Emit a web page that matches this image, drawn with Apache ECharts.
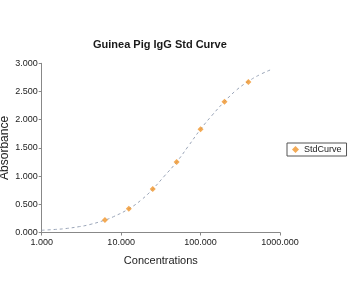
<!DOCTYPE html>
<html>
<head>
<meta charset="utf-8">
<script src="https://cdn.jsdelivr.net/npm/echarts@6/dist/echarts.min.js"></script>
<style>html,body{margin:0;padding:0;background:#fff}#c{width:350px;height:300px}</style>
</head>
<body>
<div id="c"></div>
<script>
// Standard points
var stdConc = [6.25, 12.5, 25, 50, 100, 200, 400];
var stdAbs = [0.22, 0.42, 0.77, 1.25, 1.83, 2.32, 2.67];
// Fitted curve
var fitConc = [1, 1.5, 2, 3, 4, 6.25, 8, 12.5, 18, 25, 35, 50, 70, 100, 140, 200, 280, 400, 560, 780];
var fitAbs = [0.04, 0.055, 0.07, 0.105, 0.14, 0.22, 0.28, 0.42, 0.58, 0.77, 1.0, 1.25, 1.53, 1.83, 2.08, 2.32, 2.52, 2.68, 2.80, 2.89];
// Tick labels
var xTickValues = [1, 10, 100, 1000];
var xTickLabels = ['1.000', '10.000', '100.000', '1000.000'];
var yTickValues = [0, 0.5, 1, 1.5, 2, 2.5, 3];
var yTickLabels = ['0.000', '0.500', '1.000', '1.500', '2.000', '2.500', '3.000'];

function pairs(a, b) { return a.map(function (v, i) { return [v, b[i]]; }); }
function lookup(vals, labels) {
  return function (v) {
    for (var i = 0; i < vals.length; i++) if (Math.abs(vals[i] - v) < 1e-6 * Math.max(1, vals[i])) return labels[i];
    return '';
  };
}
var font = 'Liberation Sans, Arial, sans-serif';
var chart = echarts.init(document.getElementById('c'), null, { renderer: 'canvas' });
chart.setOption({
  animation: false,
  backgroundColor: '#fff',
  textStyle: { fontFamily: font },
  title: {
    text: 'Guinea Pig IgG Std Curve',
    left: 93, top: 39,
    padding: 0,
    textStyle: { fontSize: 11, fontWeight: 'bold', color: '#1a1a1a', fontFamily: font }
  },
  legend: {
    data: ['StdCurve'],
    left: 287, top: 143,
    orient: 'vertical',
    borderColor: '#555', borderWidth: 1, borderRadius: 0,
    padding: [2, 5, 2, 5],
    itemWidth: 7, itemHeight: 7, icon: 'diamond',
    textStyle: { fontSize: 9, color: '#222', fontFamily: font }
  },
  grid: { left: 41.7, right: 70, top: 63.3, bottom: 67.5, containLabel: false, outerBoundsMode: 'none' },
  xAxis: {
    type: 'log', logBase: 10, min: 1, max: 1000,
    name: 'Concentrations', nameLocation: 'middle', nameGap: 23, nameMoveOverlap: false,
    nameTextStyle: { fontSize: 11, color: '#222', fontFamily: font },
    axisLine: { show: true, lineStyle: { color: '#888', width: 1 } },
    axisTick: { show: true, length: 3, lineStyle: { color: '#888' } },
    minorTick: { show: false },
    splitLine: { show: false },
    axisLabel: { fontSize: 9, color: '#222', margin: 6, formatter: lookup(xTickValues, xTickLabels), fontFamily: font }
  },
  yAxis: {
    type: 'value', min: 0, max: 3, interval: 0.5,
    name: 'Absorbance', nameLocation: 'middle', nameGap: 31, nameMoveOverlap: false,
    nameTextStyle: { fontSize: 12, color: '#222', fontFamily: font },
    axisLine: { show: true, lineStyle: { color: '#888', width: 1 } },
    axisTick: { show: true, length: 3, lineStyle: { color: '#888' } },
    splitLine: { show: false },
    axisLabel: { fontSize: 9, color: '#222', margin: 4, formatter: lookup(yTickValues, yTickLabels), fontFamily: font }
  },
  series: [
    {
      name: 'Fit', type: 'line', smooth: true, symbol: 'none',
      data: pairs(fitConc, fitAbs),
      lineStyle: { color: '#9aa5b8', width: 1, type: [3, 3] },
      z: 1
    },
    {
      name: 'StdCurve', type: 'scatter', symbol: 'diamond', symbolSize: 6,
      data: pairs(stdConc, stdAbs),
      itemStyle: { color: '#f0952a' },
      z: 2
    }
  ]
});
</script>
</body>
</html>
